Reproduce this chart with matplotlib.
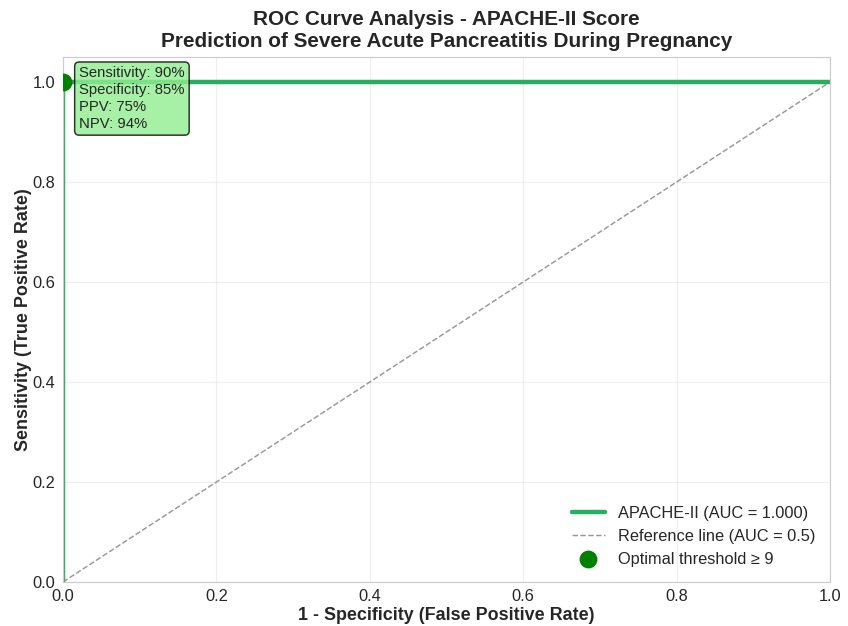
import matplotlib
matplotlib.use('Agg')
import matplotlib.pyplot as plt
import seaborn as sns

sns.set_style('whitegrid')
plt.rcParams['font.family'] = ['Liberation Sans', 'DejaVu Sans']

# ROC data
fpr = [0.0, 0.0, 1.0]
tpr = [0.0, 1.0, 1.0]
ref_x = [0.0, 1.0]
ref_y = [0.0, 1.0]
opt_fpr = 0.0
opt_tpr = 1.0
auc_value = 1.000
threshold = 9
metrics = ['Sensitivity: 90%', 'Specificity: 85%', 'PPV: 75%', 'NPV: 94%']

dpi = 107
fig, ax = plt.subplots(figsize=(848 / dpi, 626 / dpi), dpi=dpi)
ax.plot(fpr, tpr, color='#27ae60', lw=3, label='APACHE-II (AUC = {:.3f})'.format(auc_value))
ax.plot(ref_x, ref_y, color='gray', ls='--', lw=1, alpha=0.8, label='Reference line (AUC = 0.5)')
ax.plot(opt_fpr, opt_tpr, 'o', color='green', markersize=11,
        label='Optimal threshold \u2265 {}'.format(threshold), zorder=5)

ax.text(0.021, 0.982, '\n'.join(metrics), transform=ax.transAxes, fontsize=10,
        va='top', ha='left', linespacing=1.25,
        bbox=dict(boxstyle='round,pad=0.3', facecolor='lightgreen', edgecolor='black', alpha=0.8))

ax.set_xlim(0, 1)
ax.set_ylim(0, 1.05)
ax.set_xlabel('1 - Specificity (False Positive Rate)', fontsize=12, fontweight='bold', labelpad=2)
ax.set_ylabel('Sensitivity (True Positive Rate)', fontsize=12, fontweight='bold', labelpad=0.5)
ax.set_title('ROC Curve Analysis - APACHE-II Score\nPrediction of Severe Acute Pancreatitis During Pregnancy',
             fontsize=14, fontweight='bold', linespacing=1.15, pad=7)
ax.tick_params(labelsize=11, pad=1.5)
ax.grid(True, alpha=0.3)
ax.legend(loc='lower right', fontsize=11, frameon=False)

fig.subplots_adjust(left=63 / 848, right=830 / 848, top=1 - 57 / 626, bottom=1 - 582 / 626)
plt.savefig('out.png', dpi=dpi)
